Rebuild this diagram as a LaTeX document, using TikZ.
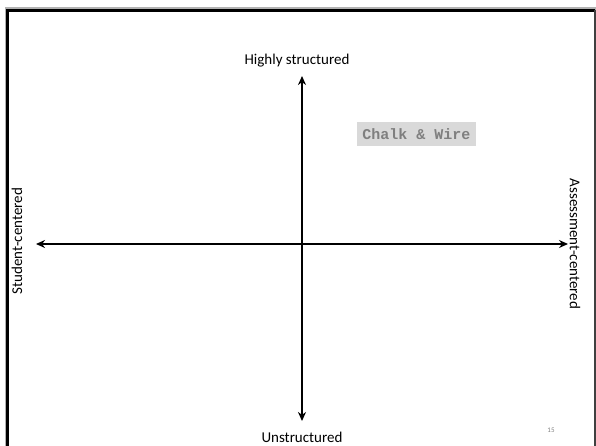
\documentclass[tikz,border=0pt]{standalone}
\usepackage{fontspec}
\setmainfont{Carlito}
\newfontfamily\monofont{Liberation Mono}
\usetikzlibrary{arrows.meta}
\definecolor{boxgray}{HTML}{D9D9D9}
\definecolor{txtgray}{HTML}{7F7F7F}
\begin{document}
\begin{tikzpicture}[x=1pt,y=1pt,
  axis/.style={line width=1.8pt, {Stealth[length=9pt,width=8pt]}-{Stealth[length=9pt,width=8pt]}},
  lbl/.style={font=\fontsize{15}{17}\selectfont, inner sep=0pt}]
\useasboundingbox (0,0) rectangle (596,-446);
% slide frame
\draw[gray!60, line width=4pt] (7,-460) -- (7,-9.5) -- (596,-9.5);
\draw[black, line width=2.6pt] (7.5,-460) -- (7.5,-10.5) -- (595,-10.5);
\draw[black!75, line width=1.2pt] (595,-10) -- (595,-460);
% axis end coordinates
\coordinate (top) at (302,-76);
\coordinate (bot) at (302,-421);
\coordinate (left) at (36,-244);
\coordinate (right) at (568,-244);
\draw[axis] (left) -- (right);
\draw[axis] (bot) -- (top);
% labels
\node[lbl] (hs) at (297,-61) {Highly structured};
\node[lbl] (us) at (302,-437) {Unstructured};
\node[lbl, rotate=90] (sc) at (17,-241) {Student-centered};
\node[lbl, rotate=-90] (ac) at (575,-244) {Assessment-centered};
% Chalk & Wire box
\node[fill=boxgray, minimum width=119pt, minimum height=24pt, inner sep=0pt,
      text=txtgray, font=\monofont\bfseries\fontsize{15}{17}\selectfont] (cw) at (416.5,-134) {Chalk \& Wire};
% page number
\node[text=txtgray, font=\fontsize{7}{8}\selectfont, inner sep=0pt] (pn) at (551,-430) {15};
\end{tikzpicture}
\end{document}
